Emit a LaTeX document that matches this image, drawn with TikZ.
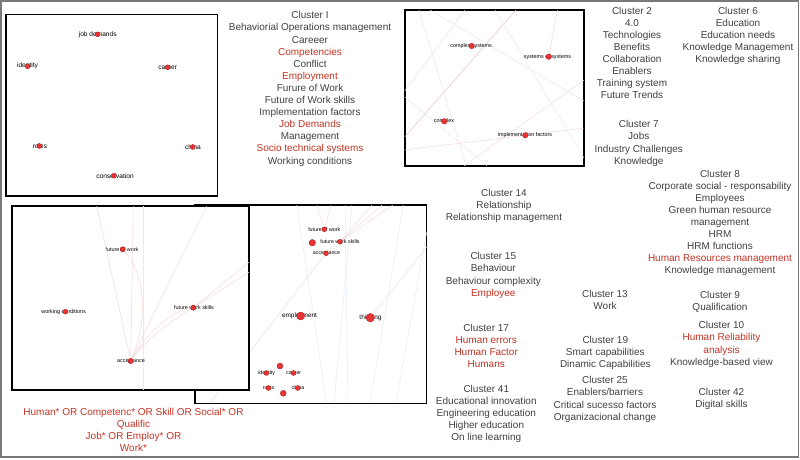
\documentclass[tikz,border=0pt]{standalone}
\usepackage{fontspec}
\setmainfont{Liberation Sans}
\definecolor{txtgray}{RGB}{64,64,64}
\definecolor{txtred}{RGB}{195,50,35}
\definecolor{dotred}{RGB}{232,52,52}
\definecolor{dotrim}{RGB}{165,25,25}
\definecolor{pinkline}{RGB}{247,218,218}
\definecolor{pinkdark}{RGB}{241,192,192}
\definecolor{greyline}{RGB}{232,232,236}
\definecolor{blueline}{RGB}{228,235,246}
\definecolor{outergray}{RGB}{120,120,120}
\tikzset{
  frame/.style={draw=black,line width=1.6pt,fill=white},
  outerframe/.style={draw=outergray,line width=1.2pt},
  dot/.style={circle,fill=dotred,draw=dotrim,line width=0.3pt,inner sep=0pt,minimum size=#1},
  dot/.default=5pt,
  lab/.style={inner sep=0pt,text=black,font=\fontsize{#1}{#1}\selectfont},
  lab/.default=5.4,
  edgep/.style={draw=pinkline,line width=0.5pt},
  edgepd/.style={draw=pinkdark,line width=0.5pt},
  edgeg/.style={draw=greyline,line width=0.5pt},
  edgeb/.style={draw=blueline,line width=0.5pt},
  txt/.style={align=center,anchor=north,inner sep=0pt,text=txtgray,font=\fontsize{10}{12.1}\selectfont},
}
\newcommand{\rd}[1]{\textcolor{txtred}{#1}}
\begin{document}
\begin{tikzpicture}[x=1pt,y=-1pt]
\useasboundingbox (0,0) rectangle (800,459);
\draw[outerframe] (1,1) rectangle (798.5,457);

% ---------- Box 1 ----------
\draw[frame] (5.7,14.3) rectangle (217.3,196);
\node[lab=6.6] (l1jd) at (97.7,34.3) {job demands};
\node[lab=6.6] (l1id) at (27.5,66) {identity};
\node[lab=6.6] (l1ca) at (167.7,67.3) {career};
\node[lab=6.6] (l1ro) at (40,146) {roles};
\node[lab=6.6] (l1ch) at (193,147) {china};
\node[lab=6.6] (l1co) at (115,175.7) {conservation};
\node[dot] (d1jd) at (97.7,34.3) {};
\node[dot] (d1id) at (27.7,66.3) {};
\node[dot] (d1ca) at (167.7,67.3) {};
\node[dot] (d1ro) at (39.3,146) {};
\node[dot] (d1ch) at (192.7,147) {};
\node[dot] (d1co) at (114,175.7) {};

% ---------- Box 2 ----------
\draw[frame] (404.7,10) rectangle (584,165.7);
\begin{scope}
\clip (404.7,10) rectangle (584,165.7);
\coordinate (b2a1) at (404.7,137);
\coordinate (b2a2) at (516,10);
\coordinate (b2b1) at (430,10);
\coordinate (b2b2) at (584,101);
\coordinate (b2c1) at (419,10);
\coordinate (b2c2) at (466,165.7);
\coordinate (b2d1) at (557.5,10);
\coordinate (b2e1) at (404.7,91);
\coordinate (b2e2) at (465,10);
\coordinate (b2g1) at (464,165.7);
\coordinate (b2g2) at (584,80);
\coordinate (b2h1) at (584,158);
\coordinate (b2h2) at (495,10);
\coordinate (b2i1) at (404.7,97);
\coordinate (b2i2) at (487,165.7);
\coordinate (b2j1) at (404.7,150);
\coordinate (b2j2) at (584,128);
\draw[edgepd] (b2a1) -- (b2a2);
\draw[edgeg] (b2b1) -- (b2b2);
\draw[edgeg] (b2c1) -- (b2c2);
\draw[edgep] (b2e1) -- (b2e2);
\draw[edgep] (b2g1) -- (b2g2);
\draw[edgeg] (b2h1) -- (b2h2);
\draw[edgeg] (b2i1) -- (b2i2);
\draw[edgep] (b2j1) -- (b2j2);
\end{scope}
\node[lab=5.4] (l2cs) at (471,46) {complex systems};
\node[lab=5.4] (l2ss) at (547.5,56.7) {systems of systems};
\node[lab=5.4] (l2cx) at (444,121.3) {complex};
\node[lab=5.4] (l2if) at (525,135.3) {implementation factors};
\node[dot=5.5pt] (d2cs) at (471.7,46) {};
\node[dot=5.5pt] (d2ss) at (548.7,56.7) {};
\node[dot=5.5pt] (d2cx) at (444.3,121.3) {};
\node[dot=5.5pt] (d2if) at (525.3,135.3) {};
\draw[edgep] (b2d1) -- (d2ss);

% ---------- Box 4 ----------
\draw[frame,line width=1.4pt] (195,205) rectangle (426.7,403.3);
\begin{scope}
\clip (195,205) rectangle (426.7,403.3);
\coordinate (b4t1) at (317,205);
\coordinate (b4t2) at (331,205);
\coordinate (b4t3) at (372,205);
\coordinate (b4t4) at (382,205);
\coordinate (b4t5) at (393,205);
\coordinate (b4bl) at (210,403.3);
\coordinate (b4tr) at (426.7,247);
\coordinate (b4u1) at (296.7,205);
\coordinate (b4v1) at (326.7,403.3);
\coordinate (b4u2) at (352,205);
\coordinate (b4v2) at (334,403.3);
\coordinate (b4u3) at (403.3,205);
\coordinate (b4v3) at (370,403.3);
\coordinate (b4u4) at (426.7,232);
\coordinate (b4v4) at (396,403.3);
\coordinate (b4u5) at (345,205);
\coordinate (b4v5) at (348,403.3);
\draw[edgeb] (b4u1) -- (b4v1);
\draw[edgeb] (b4u2) -- (b4v2);
\draw[edgeb] (b4u3) -- (b4v3);
\draw[edgeb] (b4u4) -- (b4v4);
\draw[edgeb] (b4u5) -- (b4v5);
\end{scope}
\node[lab=5.3] (l4fw) at (324.3,229.3) {future of work};
\node[lab=5.3] (l4fs) at (340,241.7) {future work skills};
\node[lab=5.3] (l4ac) at (326.5,253.3) {acceptance};
\node[lab=6.4] (l4em) at (299.5,316) {employment};
\node[lab=6.4] (l4th) at (370.5,317.7) {thinking};
\node[lab=5.3] (l4id) at (266.7,372.7) {identity};
\node[lab=5.3] (l4ca) at (293.7,372.7) {career};
\node[lab=5.3] (l4ro) at (268.7,387.7) {roles};
\node[lab=5.3] (l4ch) at (298,387.7) {china};
\node[dot] (d4fw) at (324.3,229.3) {};
\node[dot=6.5pt] (d4x1) at (312.3,242.7) {};
\node[dot] (d4fs) at (340,241.7) {};
\node[dot] (d4ac) at (326,253.3) {};
\node[dot=8pt] (d4em) at (300.7,316) {};
\node[dot=8.5pt] (d4th) at (370.3,317.7) {};
\node[dot=6pt] (d4x2) at (280,366) {};
\node[dot] (d4id) at (266.3,373) {};
\node[dot] (d4ca) at (293.5,373) {};
\node[dot] (d4ro) at (268.5,388) {};
\node[dot] (d4ch) at (297.7,388) {};
\node[dot=6pt] (d4x3) at (283.3,393.3) {};
\begin{scope}
\clip (195,205) rectangle (426.7,403.3);
\draw[edgep] (b4t1) -- (d4fw);
\draw[edgep] (b4t2) -- (d4fw);
\draw[edgep] (b4t3) -- (d4fs);
\draw[edgep] (b4t4) -- (d4fs);
\draw[edgep] (b4t5) -- (d4fs);
\draw[edgep] (d4ac) -- (b4bl);
\draw[edgep] (d4th) -- (b4tr);
\end{scope}

% ---------- Box 3 ----------
\draw[frame,line width=1.8pt] (11.7,206) rectangle (249.3,390);
\begin{scope}
\clip (11.7,206) rectangle (249.3,390);
\coordinate (b3t1) at (96.7,206);
\coordinate (b3t2) at (133.3,206);
\coordinate (b3t3) at (206.9,206);
\coordinate (b3r1) at (249.3,262);
\coordinate (b3r2) at (249.3,272);
\coordinate (b3v1) at (143.3,206);
\coordinate (b3v2) at (143.3,390);
\draw[edgeb] (b3v1) -- (b3v2);
\end{scope}
\node[lab=5.4] (l3fw) at (122,249.3) {future of work};
\node[lab=5.4] (l3wc) at (63.7,311.7) {working conditions};
\node[lab=5.4] (l3fs) at (194,307.7) {future work skills};
\node[lab=5.4] (l3ac) at (131,361) {acceptance};
\node[dot] (d3fw) at (122.7,249.3) {};
\node[dot] (d3wc) at (65.3,311.7) {};
\node[dot] (d3fs) at (193.3,307.7) {};
\node[dot] (d3ac) at (130.7,361) {};
\begin{scope}
\clip (11.7,206) rectangle (249.3,390);
\draw[edgep] (d3ac) -- (b3t1);
\draw[edgep] (d3ac) -- (b3t2);
\draw[edgep] (d3ac) -- (b3t3);
\draw[edgep] (d3ac) .. controls (148,320) and (146,275) .. (d3fw);
\draw[edgep] (d3ac) .. controls (150,330) and (170,312) .. (d3fs);
\draw[edgep] (d3ac) .. controls (145,340) and (175,318) .. (d3fs);
\draw[edgep] (d3fs) -- (b3r1);
\draw[edgep] (d3fs) -- (b3r2);
\end{scope}
\node[dot] at (122.7,249.3) {};
\node[dot] at (193.3,307.7) {};
\node[dot] at (130.7,361) {};

% ---------- Text blocks ----------
\node[txt] (c1) at (310,11.4) {Cluster I\\Behaviorial Operations management\\Careeer\\\rd{Competencies}\\Conflict\\\rd{Employment}\\Furure of Work\\Future of Work skills\\Implementation factors\\\rd{Job Demands}\\Management\\\rd{Socio technical systems}\\Working conditions};
\node[txt] (c2) at (632,6.7) {Cluster 2\\4.0\\Technologies\\Benefits\\Collaboration\\Enablers\\Training system\\Future Trends};
\node[txt] (c6) at (738,6.9) {Cluster 6\\Education\\Education needs\\Knowledge Management\\Knowledge sharing};
\node[txt] (c7) at (638.8,120.4) {Cluster 7\\Jobs\\Industry Challenges\\Knowledge};
\node[txt] (c8) at (720,169.7) {Cluster 8\\Corporate social - responsability\\Employees\\Green human resource\\management\\HRM\\HRM functions\\\rd{Human Resources management}\\Knowledge management};
\node[txt] (c9) at (720,290.7) {Cluster 9\\Qualification};
\node[txt] (c10) at (721.5,321.4) {Cluster 10\\\rd{Human Reliability}\\\rd{analysis}\\Knowledge-based view};
\node[txt] (c42) at (721.5,387.6) {Cluster 42\\Digital skills};
\node[txt] (c14) at (504,188.7) {Cluster 14\\Relationship\\Relationship management};
\node[txt] (c15) at (493.3,252.4) {Cluster 15\\Behaviour\\Behaviour complexity\\\rd{Employee}};
\node[txt] (c17) at (486.2,324.1) {Cluster 17\\\rd{Human errors}\\\rd{Human Factor}\\\rd{Humans}};
\node[txt] (c41) at (486.3,384.7) {Cluster 41\\Educational innovation\\Engineering education\\Higher education\\On line learning};
\node[txt] (c13) at (605,289.7) {Cluster 13\\Work};
\node[txt] (c19) at (605.3,335.7) {Cluster 19\\Smart capabilities\\Dinamic Capabilities};
\node[txt] (c25) at (605,376.4) {Cluster 25\\Enablers/barriers\\Critical sucesso factors\\Organizacional change};
\node[txt,text=txtred] (q) at (133.5,408.1) {Human* OR Competenc* OR Skill OR Social* OR\\Qualific\\Job* OR Employ* OR\\Work*};
\end{tikzpicture}
\end{document}
